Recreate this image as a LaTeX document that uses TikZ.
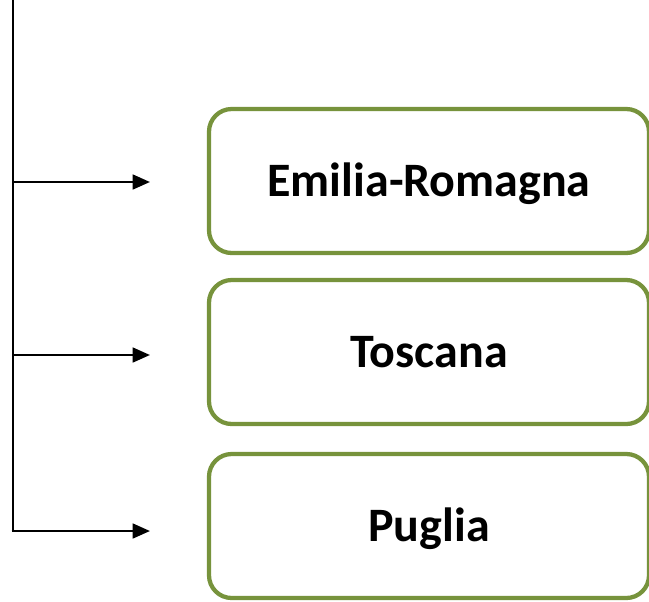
\documentclass[tikz,border=0pt]{standalone}
\usepackage{fontspec}
\setmainfont{Carlito}
\usetikzlibrary{arrows.meta}
\definecolor{boxgreen}{HTML}{77933C}
\begin{document}
\begin{tikzpicture}[x=0.75pt,y=-0.75pt,
  region/.style={draw=boxgreen, line width=3.2pt, rounded corners=17pt, fill=white,
    minimum width=440*0.75pt, minimum height=144*0.75pt, font=\bfseries\fontsize{36}{42}\selectfont,
    inner sep=0pt, text height=23.2pt, text depth=0pt},
  conn/.style={line width=2pt, draw=black},
  tip/.style={-{Triangle[length=13pt,width=11pt]}}]
\useasboundingbox (0,0) rectangle (649,601);
\node[region] (er) at (429,181) {Emilia-Romagna};
\node[region] (to) at (429,352) {Toscana};
\node[region] (pu) at (429,526) {Puglia};
\coordinate (top) at (13,0);
\coordinate (j1) at (13,182);
\coordinate (j2) at (13,355);
\coordinate (j3) at (13,531);
\coordinate (e1) at (150,182);
\coordinate (e2) at (150,355);
\coordinate (e3) at (150,531);
\draw[conn] (top) -- (j3);
\draw[conn,tip] (j1) -- (e1);
\draw[conn,tip] (j2) -- (e2);
\draw[conn,tip] ([xshift=-1pt]j3) -- (e3);
\end{tikzpicture}
\end{document}
